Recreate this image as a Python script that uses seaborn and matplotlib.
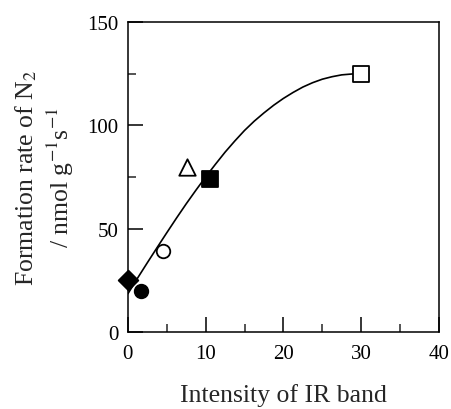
import seaborn as sns
import pandas as pd
from matplotlib import pyplot as plt
from matplotlib.ticker import MultipleLocator

# measured points
xs = [0.0, 1.7, 4.5, 7.6, 10.5, 30.0]
ys = [25, 20, 39, 80, 74, 125]
markers = ["D", "o", "o", "^", "s", "s"]
filled = [True, True, False, False, True, False]
sizes = [100, 95, 95, 140, 120, 120]

# fitted curve
curve_x = [0, 1.25, 2.5, 3.75, 5, 6.25, 7.5, 8.75, 10, 11.25, 12.5, 13.75, 15,
           16.25, 17.5, 18.75, 20, 21.25, 22.5, 23.75, 25, 26.25, 27.5, 28.75, 30]
curve_y = [18.5, 26.1, 33.5, 40.8, 48, 55.1, 62, 68.6, 75, 81.1, 87, 92.4, 97.5,
           102, 106, 109.7, 113, 115.9, 118.5, 120.6, 122.3, 123.5, 124.4, 124.8, 125]

sns.set_style("ticks")
plt.rcParams["font.family"] = ["Liberation Serif", "DejaVu Serif"]
plt.rcParams["mathtext.fontset"] = "stix"

fig = plt.figure(figsize=(4.52, 4.10), dpi=100)
ax = fig.add_axes([0.283, 0.188, 0.688, 0.756])

curve = pd.DataFrame({"x": curve_x, "y": curve_y})
sns.lineplot(data=curve, x="x", y="y", color="black", linewidth=1.2, ax=ax)

for x, y, m, f, s in zip(xs, ys, markers, filled, sizes):
    sns.scatterplot(
        x=[x], y=[y], marker=m, s=s,
        color="black" if f else "white",
        edgecolor="black", linewidth=1.3, zorder=3, ax=ax, clip_on=False,
    )

ax.set_xlim(0, 40)
ax.set_ylim(0, 150)
ax.xaxis.set_major_locator(MultipleLocator(10))
ax.xaxis.set_minor_locator(MultipleLocator(5))
ax.yaxis.set_major_locator(MultipleLocator(50))
ax.yaxis.set_minor_locator(MultipleLocator(25))
ax.tick_params(which="major", direction="in", length=11, width=1.1, labelsize=15, colors="black")
ax.tick_params(axis="x", which="major", pad=9)
ax.tick_params(axis="y", which="major", pad=7)
ax.tick_params(which="minor", direction="in", length=5.5, width=1.1)
for sp in ax.spines.values():
    sp.set_visible(True)
    sp.set_linewidth(1.1)
    sp.set_color("black")

ax.set_xlabel("Intensity of IR band", fontsize=18.5, labelpad=14)
ax.set_ylabel("Formation rate of N$_{2}$\n/ nmol g$^{-1}$s$^{-1}$", fontsize=18.5, labelpad=8, linespacing=1.25)

plt.savefig("out.png", dpi=100)
